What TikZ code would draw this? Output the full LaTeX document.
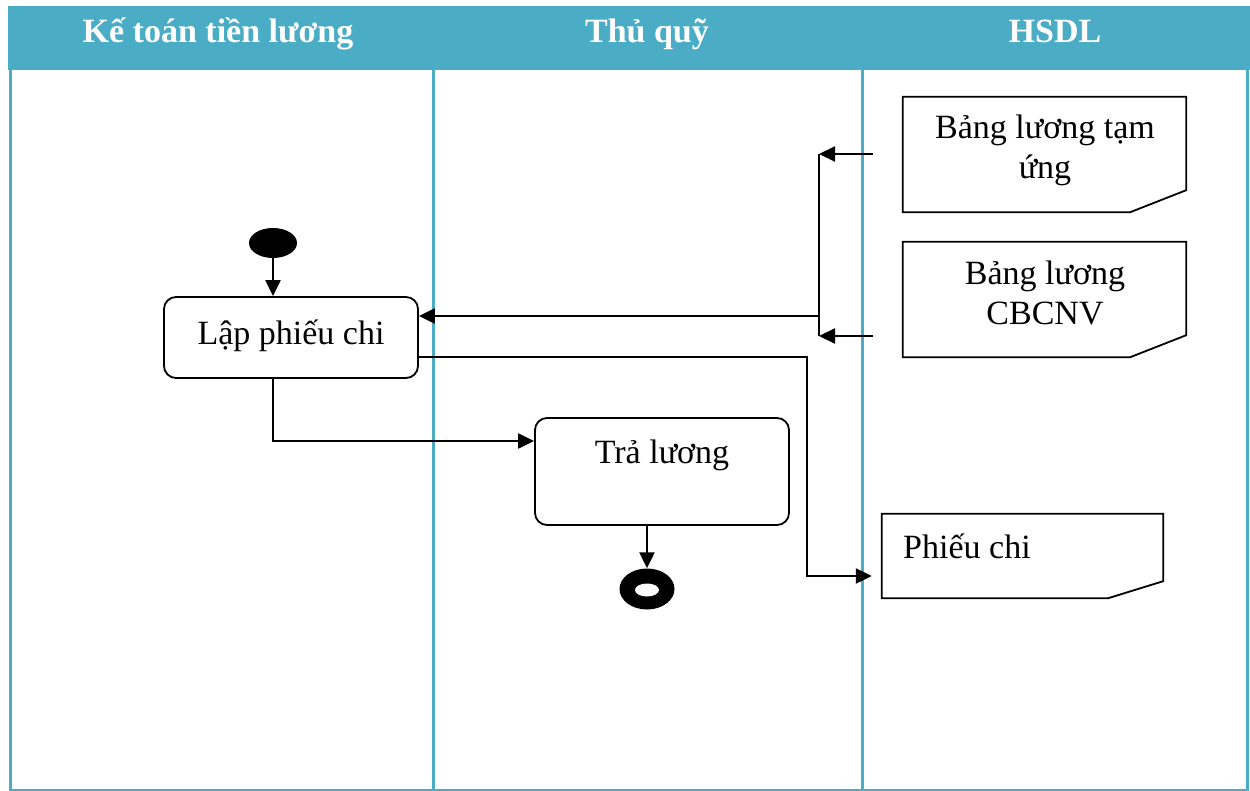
\documentclass[tikz,border=0pt]{standalone}
\usepackage{fontspec}
\setmainfont{Liberation Serif}
\usetikzlibrary{arrows.meta,calc,shapes.geometric}
\definecolor{lanecol}{HTML}{4BACC6}
\begin{document}
\begin{tikzpicture}[x=1pt,y=-1pt,
  lane/.style={draw=lanecol, line width=3pt},
  head/.style={font=\fontsize{34}{38}\selectfont\bfseries, text=white, anchor=base, inner sep=0pt},
  act/.style={draw, line width=1.8pt, rounded corners=12pt, font=\fontsize{34}{40}\selectfont, inner sep=0pt},
  docbox/.style={inner sep=0pt},
  docline/.style={draw, line width=1.8pt},
  doctext/.style={font=\fontsize{34}{40}\selectfont, align=center, inner sep=0pt},
  flow/.style={line width=2.2pt, -{Triangle[length=16pt,width=15pt]}},
  plain/.style={line width=2.2pt}
]
\useasboundingbox (0,0) rectangle (1250,791);

% swimlane frame and header band
\fill[lanecol] (8,6) rectangle (1250,70);
\draw[lane] (10,70) -- (10,790) -- (1247,790) -- (1247,70);
\draw[lane] (433,70) -- (433,790);
\draw[lane] (862,70) -- (862,790);

\node[head] (h1) at (218,43) {Kế toán tiền lương};
\node[head] (h2) at (647,43) {Thủ quỹ};
\node[head] (h3) at (1055,43) {HSDL};

% start and end markers
\node[ellipse, fill=black, minimum width=48pt, minimum height=30pt, inner sep=0pt] (s) at (273,243) {};
\node[ellipse, fill=black, minimum width=55pt, minimum height=41pt, inner sep=0pt] (e) at (647,589) {};
\node[ellipse, fill=white, minimum width=24pt, minimum height=13pt, inner sep=0pt] (ein) at (647,590) {};

% activities
\node[act, minimum width=254pt, minimum height=81pt, text height=24pt, text depth=10pt] (lap) at (291,337.5) {Lập phiếu chi};
\node[act, minimum width=254pt, minimum height=107pt, text height=24pt, text depth=41pt] (tra) at (662,471.5) {Trả lương};

% documents with a cut lower-right corner
\node[docbox, minimum width=283pt, minimum height=115pt] (d1) at (1044.5,154.5) {};
\draw[docline] (d1.north west) -- (d1.north east) -- ([yshift=22pt]d1.south east)
  -- ([xshift=-56pt]d1.south east) -- (d1.south west) -- cycle;
\node[doctext] (d1t) at (1045,150) {Bảng lương tạm\\ứng};

\node[docbox, minimum width=283pt, minimum height=115pt] (d2) at (1044.5,299.5) {};
\draw[docline] (d2.north west) -- (d2.north east) -- ([yshift=22pt]d2.south east)
  -- ([xshift=-56pt]d2.south east) -- (d2.south west) -- cycle;
\node[doctext] (d2t) at (1045,293) {Bảng lương\\CBCNV};

\node[docbox, minimum width=281pt, minimum height=84pt] (d3) at (1022.5,556) {};
\draw[docline] (d3.north west) -- (d3.north east) -- ([yshift=17pt]d3.south east)
  -- ([xshift=-55pt]d3.south east) -- (d3.south west) -- cycle;
\node[doctext, anchor=base west] (d3t) at (903,558) {Phiếu chi};

% connectors
\coordinate (c1) at (873,154);
\coordinate (c2) at (873,336);
\coordinate (j1) at (819,154);
\coordinate (j2) at (819,336);
\coordinate (j3) at (819,316);
\draw[flow] (c1) -- (j1);
\draw[flow] (c2) -- (j2);
\draw[plain] (j1) -- (j2);
\draw[flow] (j3) -- (lap.east |- j3);

\draw[flow] (s.south) -- (s.south |- lap.north);
\coordinate (k) at (273,441);
\draw[flow] (s.south |- lap.south) -- (k) -- (tra.west |- k);
\draw[flow] (e |- tra.south) -- (e.north);

\coordinate (p1) at (807,357);
\coordinate (p2) at (807,576);
\draw[flow, shorten >=10pt] (lap.east |- p1) -- (p1) -- (p2) -- (d3.west |- p2);
\end{tikzpicture}
\end{document}
